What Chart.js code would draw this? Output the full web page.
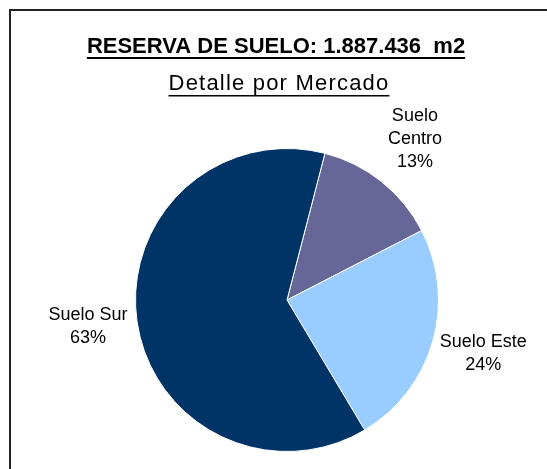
<!DOCTYPE html>
<html>
<head>
<meta charset="utf-8">
<script src="https://cdn.jsdelivr.net/npm/chart.js@4"></script>
<style>
  html, body { margin: 0; padding: 0; background: #fff; }
</style>
</head>
<body>
<canvas id="pieChart" width="547" height="469"></canvas>
<script>
const mainTitle = "RESERVA DE SUELO: 1.887.436  m2";
const subTitle = "Detalle por Mercado";
// multi-line category names, as they wrap in the picture
const categories = [["Suelo", "Centro"], ["Suelo Este"], ["Suelo Sur"]];
const shares = [13.4, 24.0, 62.6];
const sliceColors = ["#666699", "#99CCFF", "#003366"];

const font = "'Liberation Sans', Arial, sans-serif";

// frame + underlined titles
const headerPlugin = {
  id: "header",
  beforeDraw(chart) {
    const ctx = chart.ctx;
    ctx.save();
    ctx.fillStyle = "#fff";
    ctx.fillRect(0, 0, chart.width, chart.height);
    ctx.fillStyle = "#222";
    ctx.fillRect(9, 9, chart.width - 9, 2);
    ctx.fillRect(9, 9, 2, chart.height - 9);

    const cx = (11 + chart.width) / 2;
    ctx.textAlign = "center";
    ctx.textBaseline = "alphabetic";
    ctx.fillStyle = "#000";

    ctx.font = "bold 22px " + font;
    ctx.fillText(mainTitle, cx - 3, 53);
    let w = ctx.measureText(mainTitle).width;
    ctx.fillRect(cx - 3 - w / 2, 57, w, 2);

    ctx.font = "22px " + font;
    ctx.letterSpacing = "1.2px";
    ctx.fillText(subTitle, cx, 90);
    w = ctx.measureText(subTitle).width;
    ctx.fillRect(cx - w / 2, 95, w, 1.5);
    ctx.restore();
  }
};

// category name + percentage outside each slice
const sliceLabels = {
  id: "sliceLabels",
  afterDatasetsDraw(chart) {
    const ctx = chart.ctx;
    const meta = chart.getDatasetMeta(0);
    const total = shares.reduce((a, b) => a + b, 0);
    ctx.save();
    ctx.font = "18px " + font;
    ctx.fillStyle = "#000";
    ctx.textAlign = "center";
    ctx.textBaseline = "middle";
    meta.data.forEach((arc, i) => {
      const p = arc.getProps(["x", "y", "startAngle", "endAngle", "outerRadius"], true);
      const mid = (p.startAngle + p.endAngle) / 2;
      const dist = p.outerRadius + 51;
      const lx = p.x + Math.cos(mid) * dist + 1.5;
      const ly = p.y + Math.sin(mid) * dist - 2.5;
      const lines = categories[i].concat([Math.round(shares[i] / total * 100) + "%"]);
      const lh = 23;
      const top = ly - (lines.length - 1) * lh / 2;
      lines.forEach((t, k) => ctx.fillText(t, lx, top + k * lh));
    });
    ctx.restore();
  }
};

new Chart(document.getElementById("pieChart").getContext("2d"), {
  type: "pie",
  data: {
    labels: categories,
    datasets: [{
      data: shares,
      backgroundColor: sliceColors,
      borderColor: "#ffffff",
      borderWidth: 1
    }]
  },
  options: {
    responsive: false,
    animation: false,
    rotation: 14.5,
    layout: { padding: { left: 135, right: 108, top: 148, bottom: 17 } },
    plugins: {
      legend: { display: false },
      tooltip: { enabled: false },
      title: { display: false }
    }
  },
  plugins: [headerPlugin, sliceLabels]
});
</script>
</body>
</html>
